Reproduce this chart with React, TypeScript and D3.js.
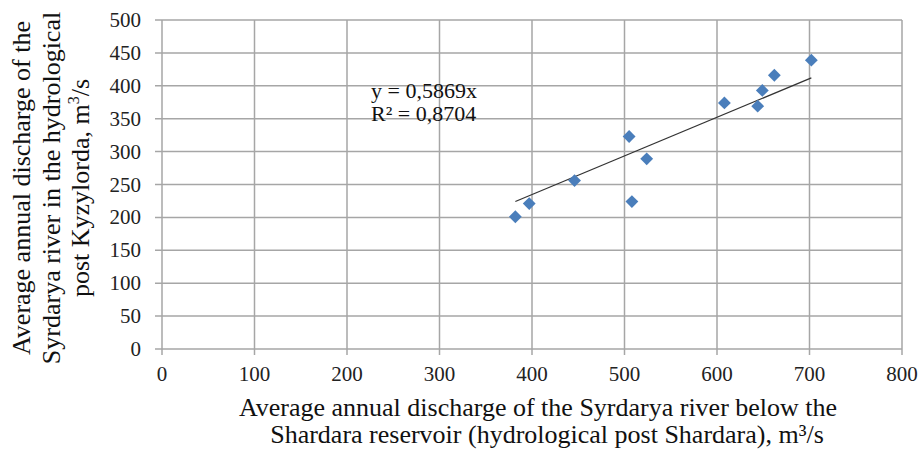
import React from "react";
import * as d3 from "d3";

const xValues = [382, 397, 446, 505, 508, 524, 608, 644, 649, 662, 702];
const yValues = [201, 221, 256, 323, 224, 289, 374, 369, 393, 416, 439];
const xTicks = [0, 100, 200, 300, 400, 500, 600, 700, 800];
const yTicks = [0, 50, 100, 150, 200, 250, 300, 350, 400, 450, 500];
const slope = 0.5869;
const equationLabel = "y = 0,5869x";
const r2Label = "R² = 0,8704";

const W = 923;
const H = 451;
const left = 162;
const right = 902;
const top = 20;
const bottom = 349;

export default function App() {
  const x = d3.scaleLinear().domain([0, 800]).range([left, right]);
  const y = d3.scaleLinear().domain([0, 500]).range([bottom, top]);
  const grid = "#a6a6a6";
  const font = "'Liberation Serif', 'Times New Roman', serif";
  const xMin = d3.min(xValues) as number;
  const xMax = d3.max(xValues) as number;
  const diamond = d3.symbol().type(d3.symbolDiamond2).size(105)() as string;

  return (
    <svg width={W} height={H} style={{ position: "absolute", left: 0, top: 0, background: "#fff" }}>
      {yTicks.map((t) => (
        <g key={"y" + t}>
          <line x1={left - 7} x2={right} y1={y(t)} y2={y(t)} stroke={grid} strokeWidth={1.5} />
          <text x={141} y={y(t) + 7} textAnchor="end" fontFamily={font} fontSize={21} fill="#222">
            {t}
          </text>
        </g>
      ))}
      {xTicks.map((t) => (
        <g key={"x" + t}>
          <line x1={x(t)} x2={x(t)} y1={top} y2={bottom + 6} stroke={grid} strokeWidth={1.5} />
          <text x={x(t)} y={bottom + 32} textAnchor="middle" fontFamily={font} fontSize={21} fill="#222">
            {t}
          </text>
        </g>
      ))}
      <line
        x1={x(xMin)}
        y1={y(slope * xMin)}
        x2={x(xMax)}
        y2={y(slope * xMax)}
        stroke="#333"
        strokeWidth={1.2}
      />
      {xValues.map((v, i) => (
        <path key={i} d={diamond} transform={`translate(${x(v)},${y(yValues[i])})`} fill="#4a7ebb" />
      ))}
      <text x={371} y={98} fontFamily={font} fontSize={22} fill="#111">
        {equationLabel}
      </text>
      <text x={371} y={121} fontFamily={font} fontSize={22} fill="#111">
        {r2Label}
      </text>
      <g fontFamily={font} fontSize={26} fill="#111" textAnchor="middle">
        <text x={538} y={416}>Average annual discharge of the Syrdarya river below the</text>
        <text x={547} y={443}>Shardara reservoir (hydrological post Shardara), m³/s</text>
      </g>
      <g fontFamily={font} fontSize={26} fill="#111" textAnchor="middle" transform="translate(0,188) rotate(-90)">
        <text x={0} y={30}>Average annual discharge of the</text>
        <text x={0} y={60}>Syrdarya river in the hydrological</text>
        <text x={0} y={89}>
          post Kyzylorda, m<tspan fontSize={16} dy={-10}>3</tspan>
          <tspan dy={10}>/s</tspan>
        </text>
      </g>
    </svg>
  );
}
